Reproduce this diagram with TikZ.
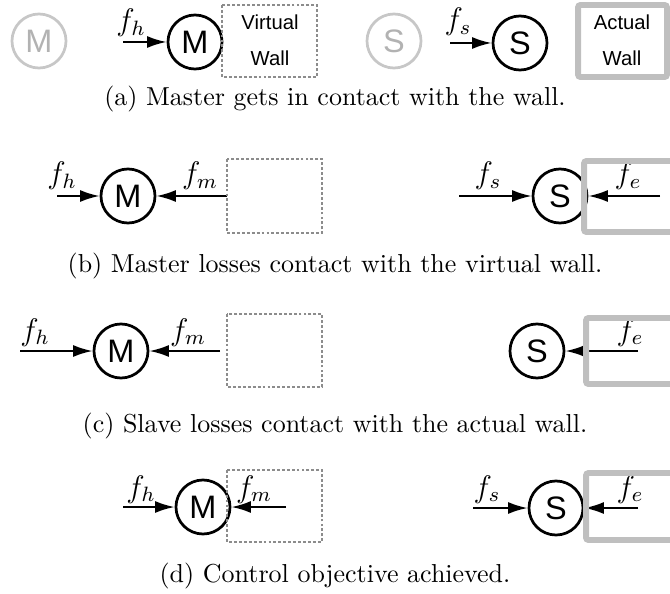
\documentclass[tikz,border=0pt]{standalone}
\usepackage{amsmath}
\usepackage{fontspec}
\newfontfamily\helv{Liberation Sans}
\usetikzlibrary{arrows.meta}
\tikzset{
  mass/.style={circle, draw, line width=1.05pt, minimum size=20.8pt, inner sep=0pt,
    font=\helv\fontsize{12.5}{14}\selectfont},
  ghost/.style={mass, draw=black!22, text=black!30},
  force/.style={line width=0.8pt, -{Latex[length=7.5pt,width=4.6pt]}},
  flabel/.style={anchor=base, font=\large, inner sep=0pt},
  walltext/.style={font=\helv\fontsize{7.8}{9}\selectfont, inner sep=0pt},
  vwall/.style={draw=black!45, line width=0.4pt, dash pattern=on 1.1pt off 0.8pt},
  awall/.style={draw=black!25, line width=2.3pt, rounded corners=1pt},
  caption/.style={anchor=base, inner sep=0pt},
}
\begin{document}
\begin{tikzpicture}[x=0.385pt,y=-0.385pt]
  \useasboundingbox (0,0) rectangle (670,594);
  %(a)
  \node[ghost] (M0) at (39,41) {M};
  \node[mass] (M1) at (195,42) {M};
  \coordinate (fh1) at (123,42);
  \draw[force] (fh1) -- (M1);
  \node[flabel] (lh1) at (131,31) {$f_h$};
  \draw[vwall] (222,5) rectangle (317,77);
  \node[walltext] (vw1) at (270,22) {Virtual};
  \node[walltext] (vw2) at (270,58) {Wall};
  \node[ghost] (S0) at (394,41) {S};
  \node[mass] (S1) at (520,43) {S};
  \coordinate (fs1) at (450,43);
  \draw[force] (fs1) -- (S1);
  \node[flabel] (ls1) at (458,30) {$f_s$};
  \draw[awall] (578,5) rectangle (667,77);
  \node[walltext] (aw1) at (622,22) {Actual};
  \node[walltext] (aw2) at (622,58) {Wall};
  \node[caption] (ca) at (335,106) {(a) Master gets in contact with the wall.};
  %(b)
  \node[mass] (M2) at (128,196) {M};
  \coordinate (fh2) at (57,196);
  \coordinate (fm2) at (227,196);
  \draw[force] (fh2) -- (M2);
  \draw[force] (fm2) -- (M2);
  \node[flabel] (lh2) at (62,184) {$f_h$};
  \node[flabel] (lm2) at (200,184) {$f_m$};
  \draw[vwall] (227,159) rectangle (322,233);
  \node[mass] (S2) at (560,196) {S};
  \coordinate (fs2) at (459,196);
  \coordinate (fe2) at (660,196);
  \draw[force] (fs2) -- (S2);
  \draw[force] (fe2) -- (S2);
  \node[flabel] (ls2) at (488,184) {$f_s$};
  \node[flabel] (le2) at (628,184) {$f_e$};
  \draw[awall] (680,161) -- (584,161) -- (584,232) -- (680,232);
  \node[caption] (cb) at (335,272) {(b) Master losses contact with the virtual wall.};
  %(c)
  \node[mass] (M3) at (121,351) {M};
  \coordinate (fh3) at (20,351);
  \coordinate (fm3) at (220,351);
  \draw[force] (fh3) -- (M3);
  \draw[force] (fm3) -- (M3);
  \node[flabel] (lh3) at (35,340) {$f_h$};
  \node[flabel] (lm3) at (188,340) {$f_m$};
  \draw[vwall] (227,314) rectangle (322,387);
  \node[mass] (S3) at (537,351) {S};
  \coordinate (fe3) at (638,351);
  \draw[force] (fe3) -- (S3);
  \node[flabel] (le3) at (630,340) {$f_e$};
  \draw[awall] (680,318) -- (586,318) -- (586,384) -- (680,384);
  \node[caption] (cc) at (335,432) {(c) Slave losses contact with the actual wall.};
  %(d)
  \node[mass] (M4) at (203,507) {M};
  \coordinate (fh4) at (123,507);
  \coordinate (fm4) at (286,507);
  \draw[force] (fh4) -- (M4);
  \draw[force] (fm4) -- (M4);
  \node[flabel] (lh4) at (141,497) {$f_h$};
  \node[flabel] (lm4) at (254,497) {$f_m$};
  \draw[vwall] (227,470) rectangle (322,542);
  \node[mass] (S4) at (556,508) {S};
  \coordinate (fs4) at (473,508);
  \coordinate (fe4) at (638,508);
  \draw[force] (fs4) -- (S4);
  \draw[force] (fe4) -- (S4);
  \node[flabel] (ls4) at (487,497) {$f_s$};
  \node[flabel] (le4) at (630,497) {$f_e$};
  \draw[awall] (680,473) -- (586,473) -- (586,540) -- (680,540);
  \node[caption] (cd) at (335,582) {(d) Control objective achieved.};
\end{tikzpicture}
\end{document}
